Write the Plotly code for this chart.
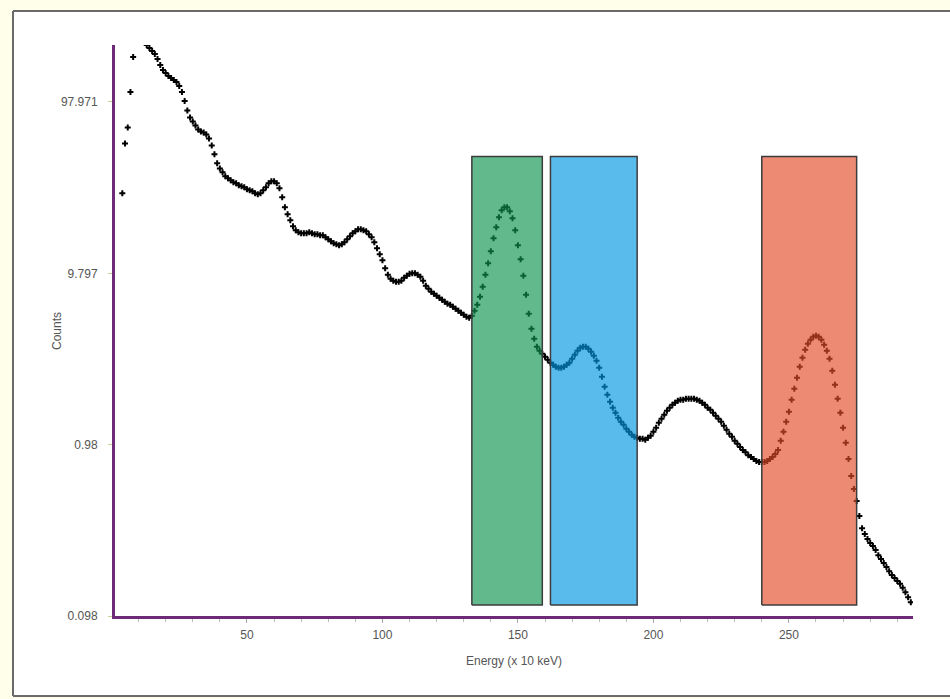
import plotly.graph_objects as go

# ---- data ----
counts = [
    28.69, 56.15, 69.61, 112.0, 179.3, 240.9, 257.7, 250.8, 225.3, 210.6,   # 4-13
    202.3, 194.3, 186.7, 174.5, 161.0, 150.6, 144.6, 138.9, 135.2, 131.6,   # 14-23
    128.2, 121.4, 112.0, 99.29, 87.46, 79.61, 75.45, 71.50, 67.76, 65.97,   # 24-33
    65.09, 63.36, 60.05, 54.66, 48.44, 42.92, 40.13, 38.04, 36.05, 35.09,   # 34-43
    34.16, 33.26, 32.81, 31.94, 31.52, 31.10, 30.27, 29.87, 29.47, 28.69,   # 44-53
    28.31, 28.69, 29.87, 31.10, 32.81, 33.71, 33.71, 32.81, 30.68, 27.19,   # 54-63
    23.77, 21.64, 19.96, 18.42, 17.45, 16.99, 16.76, 16.76, 16.76, 16.99,   # 64-73
    16.76, 16.54, 16.54, 16.32, 16.32, 15.89, 15.47, 15.06, 14.66, 14.46,   # 74-83
    14.27, 14.46, 14.86, 15.47, 16.10, 16.76, 17.22, 17.69, 17.69, 17.45,   # 84-93
    17.22, 16.54, 15.89, 14.86, 13.71, 12.64, 11.67, 10.48, 9.608, 9.106,   # 94-103
    8.864, 8.746, 8.746, 8.864, 9.229, 9.480, 9.738, 9.797, 9.797, 9.608,   # 104-113
    9.353, 8.864, 8.289, 7.961, 7.647, 7.444, 7.247, 7.055, 6.868, 6.686,   # 114-123
    6.509, 6.422, 6.252, 6.086, 5.925, 5.768, 5.615, 5.466, 5.393, 5.540,   # 124-133
    5.925, 6.422, 7.150, 8.178, 9.608, 11.20, 13.16, 15.68, 18.17, 20.78,   # 134-143
    22.83, 23.77, 23.77, 22.53, 20.51, 17.45, 14.27, 11.82, 9.480, 7.345,   # 144-153
    5.691, 4.652, 4.068, 3.653, 3.462, 3.326, 3.194, 3.068, 2.947, 2.869,   # 154-163
    2.793, 2.756, 2.756, 2.793, 2.869, 2.947, 3.110, 3.281, 3.462, 3.605,   # 164-173
    3.653, 3.653, 3.557, 3.416, 3.237, 3.027, 2.756, 2.442, 2.135, 1.917,   # 174-183
    1.745, 1.610, 1.506, 1.408, 1.334, 1.282, 1.214, 1.167, 1.120, 1.091,   # 184-193
    1.076, 1.062, 1.062, 1.048, 1.076, 1.105, 1.167, 1.231, 1.316, 1.389,   # 194-203
    1.466, 1.547, 1.610, 1.676, 1.722, 1.769, 1.793, 1.793, 1.817, 1.817,   # 204-213
    1.817, 1.817, 1.793, 1.769, 1.722, 1.676, 1.610, 1.568, 1.506, 1.446,   # 214-223
    1.389, 1.334, 1.264, 1.198, 1.136, 1.091, 1.034, 0.993, 0.948, 0.911,   # 224-233
    0.886, 0.851, 0.829, 0.807, 0.786, 0.775, 0.775, 0.775, 0.786, 0.807,   # 234-243
    0.829, 0.863, 0.911, 1.034, 1.167, 1.334, 1.526, 1.793, 2.078, 2.409,   # 244-253
    2.793, 3.152, 3.509, 3.804, 4.013, 4.179, 4.235, 4.179, 4.013, 3.753,   # 254-263
    3.462, 3.110, 2.647, 2.193, 1.817, 1.506, 1.231, 1.006, 0.807, 0.642,   # 264-273
    0.539, 0.459, 0.375, 0.319, 0.295, 0.276, 0.261, 0.251, 0.238, 0.222,   # 274-283
    0.211, 0.200, 0.189, 0.179, 0.170, 0.163, 0.157, 0.151, 0.143, 0.135,   # 284-293
    0.126, 0.118,                                                           # 294-295
]
first_channel = 4
energy = list(range(first_channel, first_channel + len(counts)))

# regions of interest (energy, x 10 keV) and their count window
roi_start = [133, 162, 240]
roi_end = [159, 194, 275]
roi_low = 0.1136
roi_high = 47.15
roi_colors = ["rgba(14,149,78,0.65)", "rgba(0,150,226,0.65)", "rgba(226,75,41,0.65)"]

y_tickvals = [0.09797, 0.9797, 9.797, 97.971]
y_ticktext = ["0.098", "0.98", "9.797", "97.971"]
x_tickvals = [50, 100, 150, 200, 250]

fig = go.Figure()

fig.add_trace(go.Scatter(
    x=energy, y=counts, mode="markers",
    marker=dict(symbol="cross", size=5, color="black", line=dict(width=0)),
    showlegend=False, hoverinfo="x+y",
))

for x0, x1, col in zip(roi_start, roi_end, roi_colors):
    fig.add_trace(go.Scatter(
        x=[x0, x1, x1, x0, x0],
        y=[roi_low, roi_low, roi_high, roi_high, roi_low],
        mode="lines", fill="toself", fillcolor=col,
        line=dict(color="#3c3c3c", width=1.5),
        showlegend=False, hoverinfo="skip",
    ))

# outer panel with grey frame (top, left and bottom edges)
W, H = 950, 699
ml, mr, mt, mb = 115, 37, 45, 83
pw, ph = W - ml - mr, H - mt - mb
def px2paper_x(px):
    return (px - ml) / pw
def py2paper_y(py):
    return (H - mb - py) / ph

fx0, fx1 = px2paper_x(13), px2paper_x(955)
fy0, fy1 = py2paper_y(696), py2paper_y(11)
fig.add_shape(type="rect", xref="paper", yref="paper",
              x0=fx0, x1=fx1, y0=fy0, y1=fy1,
              fillcolor="white", line=dict(width=0), layer="below")
frame = dict(color="#6a6a6a", width=2)
fig.add_shape(type="line", xref="paper", yref="paper", x0=fx0, x1=fx1, y0=fy1, y1=fy1, line=frame, layer="below")
fig.add_shape(type="line", xref="paper", yref="paper", x0=fx0, x1=fx1, y0=fy0, y1=fy0, line=frame, layer="below")
fig.add_shape(type="line", xref="paper", yref="paper", x0=fx0, x1=fx0, y0=fy0, y1=fy1, line=frame, layer="below")

grey = "#555555"
fig.add_annotation(text="Counts", xref="paper", yref="paper",
                   x=px2paper_x(57), y=py2paper_y(331), textangle=-90,
                   showarrow=False, xanchor="center", yanchor="middle",
                   font=dict(size=12, color=grey))

font = "Liberation Sans, Arial, sans-serif"
fig.update_layout(
    width=W, height=H,
    margin=dict(l=ml, r=mr, t=mt, b=mb),
    paper_bgcolor="#FFFEEA",
    plot_bgcolor="rgba(0,0,0,0)",
    font=dict(family=font, size=12, color=grey),
    showlegend=False,
    xaxis=dict(
        range=[1.3, 295.8], showgrid=False, zeroline=False,
        showline=True, linecolor="#6E2A78", linewidth=3,
        tickvals=x_tickvals, ticks="outside", ticklen=4, tickcolor="#aaaaaa",
        minor=dict(dtick=10, ticks="outside", ticklen=3, tickcolor="#bbbbbb"),
        ticklabelstandoff=2,
        tickfont=dict(size=12, color=grey),
        title=dict(text="Energy (x 10 keV)", font=dict(size=12, color=grey), standoff=16),
    ),
    yaxis=dict(
        type="log", range=[-1.0089, 2.3235], showgrid=False, zeroline=False,
        showline=True, linecolor="#6E2A78", linewidth=3,
        tickvals=y_tickvals, ticktext=y_ticktext,
        ticks="outside", ticklen=4, tickcolor="#cccc99",
        ticklabelstandoff=8,
        tickfont=dict(size=12, color=grey),
    ),
)

fig.write_html("out.html", config={"displayModeBar": False},
               post_script="document.body.style.margin='0';document.body.style.background='#FFFEEA';")
